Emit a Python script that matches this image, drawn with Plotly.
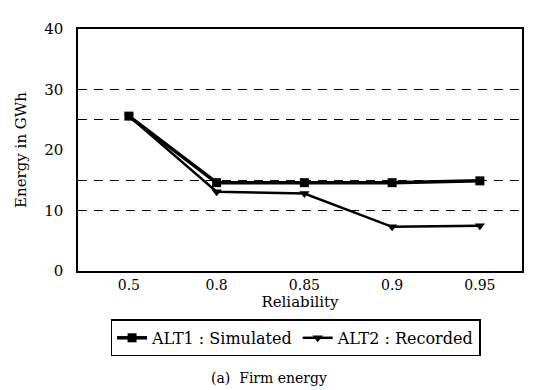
import plotly.graph_objects as go

reliability = ["0.5", "0.8", "0.85", "0.9", "0.95"]
alt1_simulated = [25.6, 14.6, 14.6, 14.6, 14.9]
alt2_recorded = [25.6, 13.1, 12.8, 7.3, 7.5]
y_ticks = [0, 10, 20, 30, 40]
dashed_levels = [10, 15, 25, 30]

FONT = "DejaVu Serif"

fig = go.Figure()
fig.add_trace(go.Scatter(
    x=reliability, y=alt1_simulated, name="ALT1 : Simulated",
    mode="lines+markers", line=dict(color="black", width=3.5),
    marker=dict(symbol="square", size=9, color="black"),
))
fig.add_trace(go.Scatter(
    x=reliability, y=alt2_recorded, name="ALT2 : Recorded",
    mode="lines+markers", line=dict(color="black", width=2.5),
    marker=dict(symbol="triangle-down", size=9, color="black"),
))
# invisible trace to activate overlay axis for dashed grid lines
fig.add_trace(go.Scatter(x=reliability, y=[None]*len(reliability), yaxis="y2",
                         showlegend=False, hoverinfo="skip"))

fig.update_layout(
    width=544, height=390,
    margin=dict(l=69, r=30, t=12, b=127),
    paper_bgcolor="white", plot_bgcolor="white",
    font=dict(family=FONT, color="black", size=14),
    xaxis=dict(
        type="category", range=[-0.58, 4.48],
        showline=True, mirror=True, linecolor="black", linewidth=1.5,
        showgrid=False, ticks="", tickfont=dict(size=14),
        title=dict(text="Reliability", font=dict(size=15), standoff=4),
    ),
    yaxis=dict(
        range=[0, 40], tickvals=y_ticks,
        showline=True, mirror=True, linecolor="black", linewidth=1.5,
        showgrid=False, zeroline=False, ticks="", tickfont=dict(size=15),
        ticklabelstandoff=10,
        title=dict(text="Energy in GWh", font=dict(size=15), standoff=14),
    ),
    yaxis2=dict(
        range=[0, 40], tickvals=dashed_levels, overlaying="y",
        showticklabels=False, showgrid=True, griddash="9px,7px",
        gridcolor="black", gridwidth=1, zeroline=False, showline=False,
    ),
    legend=dict(
        orientation="h", x=0.49, xanchor="center", y=-0.2, yanchor="top",
        bordercolor="black", borderwidth=1.5, font=dict(size=16),
        itemwidth=30, tracegroupgap=0,
    ),
    annotations=[dict(
        text="(a)  Firm energy", xref="paper", yref="paper",
        x=0.43, y=-0.40, xanchor="center", yanchor="top",
        showarrow=False, font=dict(size=14),
    )],
)

fig.write_html("out.html")
